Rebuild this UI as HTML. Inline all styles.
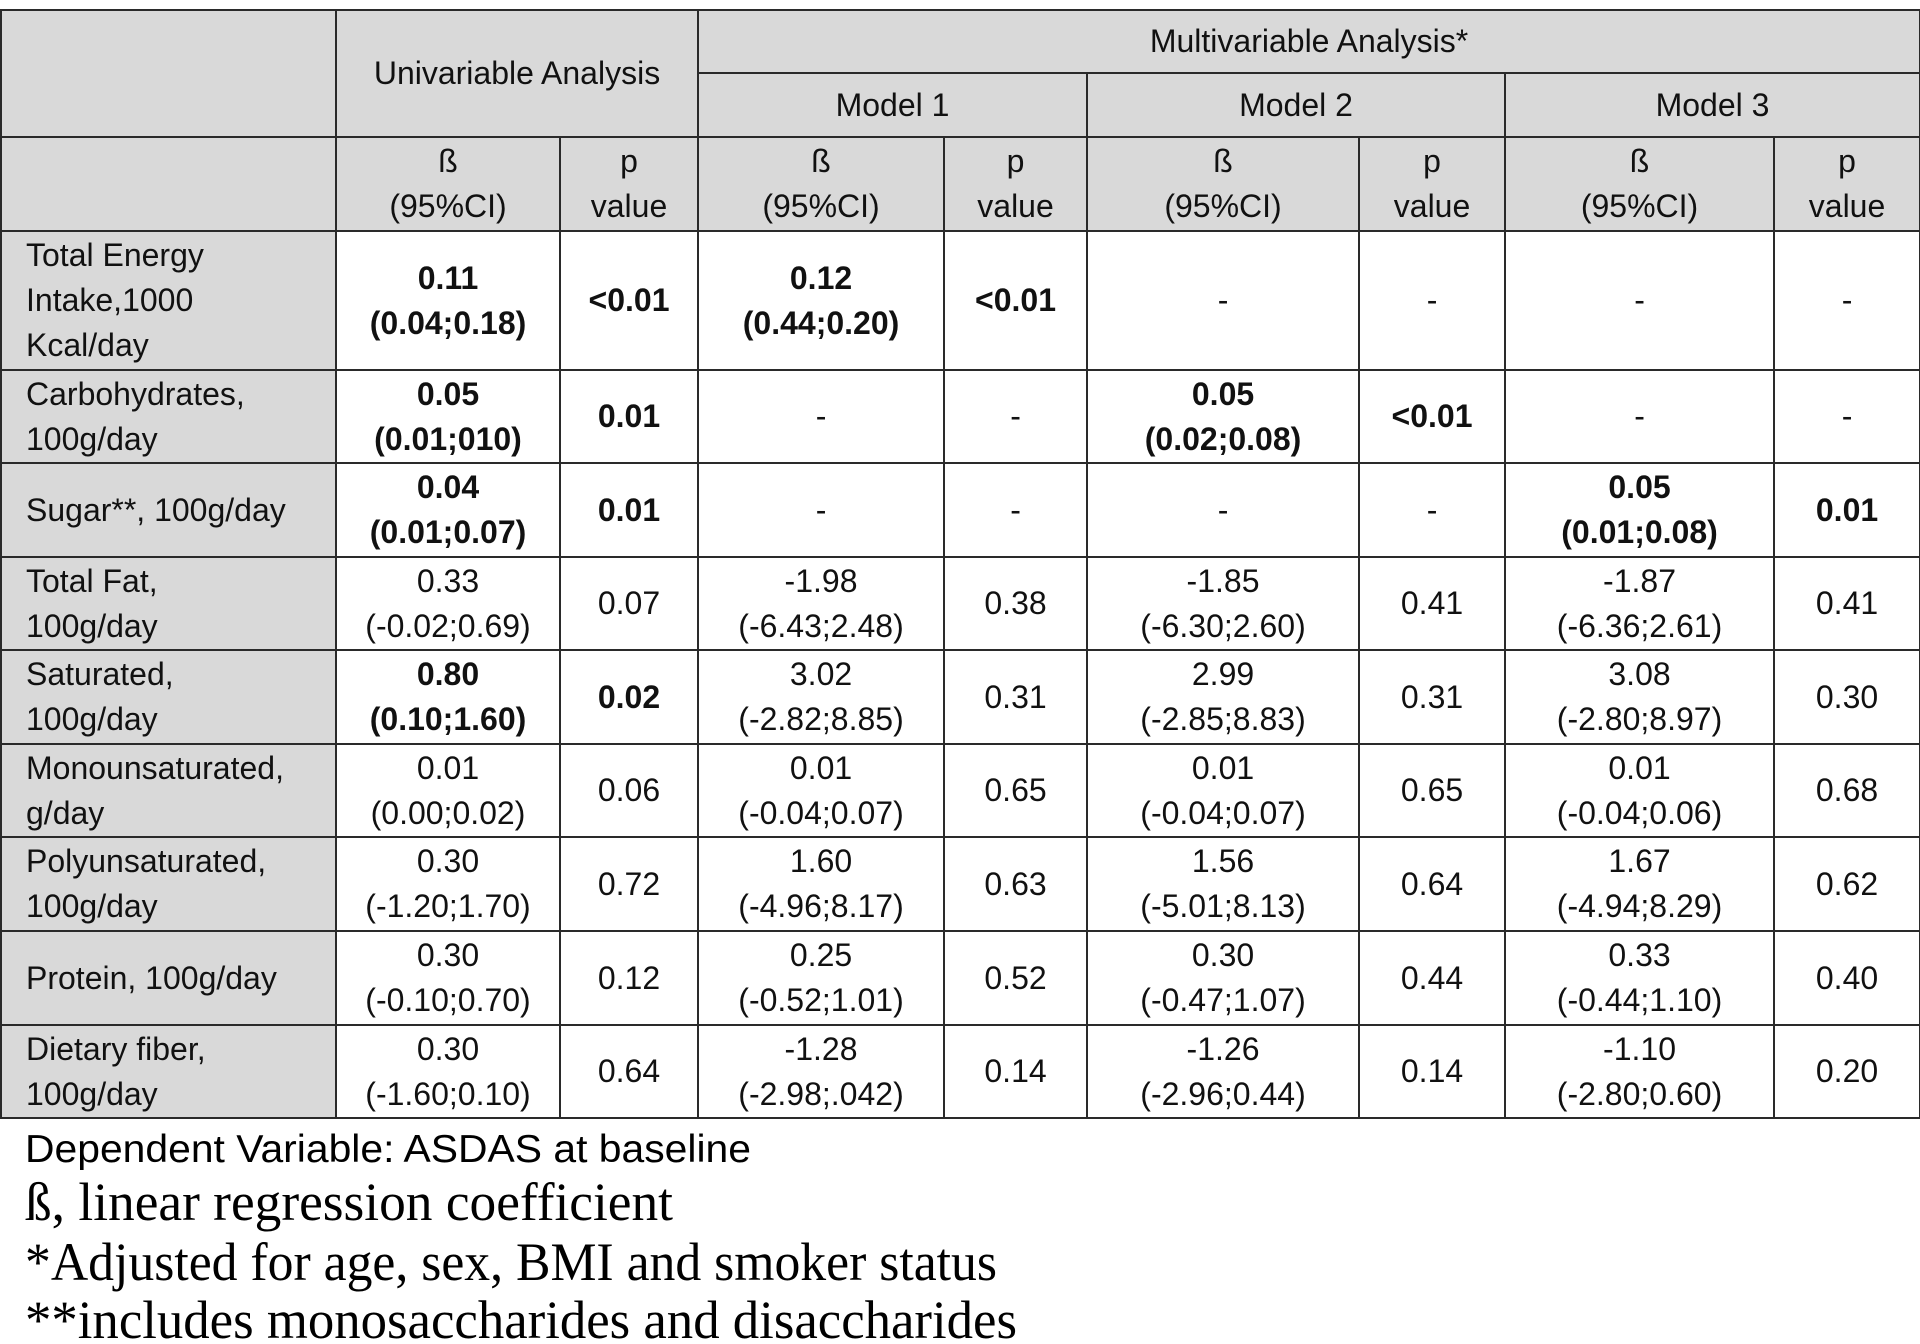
<!DOCTYPE html>
<html><head><meta charset="utf-8"><style>
body{margin:0;width:1920px;height:1344px;background:#fff;overflow:hidden;font-family:"Liberation Sans",sans-serif;color:#111}
table{position:absolute;left:0;top:9px;border-collapse:collapse;table-layout:fixed;width:1919px;font-size:32px;line-height:45px}
td{border:2px solid #2a2a2a;text-align:center;vertical-align:middle;padding:0;white-space:nowrap}
.g{background:#d9d9d9}
.l{text-align:left;padding-left:24px}
b{font-weight:bold}
#notes{position:absolute;left:0;top:1120px}
</style></head><body>
<table>
<colgroup><col style="width:335px"><col style="width:224px"><col style="width:138px"><col style="width:246px"><col style="width:143px"><col style="width:272px"><col style="width:146px"><col style="width:269px"><col style="width:146px"></colgroup>
<tr style="height:63px"><td class="g" rowspan="2"></td><td class="g" rowspan="2" colspan="2">Univariable Analysis</td><td class="g" colspan="6">Multivariable Analysis*</td></tr>
<tr style="height:64px"><td class="g" colspan="2">Model 1</td><td class="g" colspan="2">Model 2</td><td class="g" colspan="2">Model 3</td></tr>
<tr style="height:94px"><td class="g"></td><td class="g">ß<br>(95%CI)</td><td class="g">p<br>value</td><td class="g">ß<br>(95%CI)</td><td class="g">p<br>value</td><td class="g">ß<br>(95%CI)</td><td class="g">p<br>value</td><td class="g">ß<br>(95%CI)</td><td class="g">p<br>value</td></tr>
<tr style="height:139px"><td class="g l">Total Energy<br>Intake,1000<br>Kcal/day</td><td><b>0.11<br>(0.04;0.18)</b></td><td><b>&lt;0.01</b></td><td><b>0.12<br>(0.44;0.20)</b></td><td><b>&lt;0.01</b></td><td>-</td><td>-</td><td>-</td><td>-</td></tr>
<tr style="height:93px"><td class="g l">Carbohydrates,<br>100g/day</td><td><b>0.05<br>(0.01;010)</b></td><td><b>0.01</b></td><td>-</td><td>-</td><td><b>0.05<br>(0.02;0.08)</b></td><td><b>&lt;0.01</b></td><td>-</td><td>-</td></tr>
<tr style="height:94px"><td class="g l">Sugar**, 100g/day</td><td><b>0.04<br>(0.01;0.07)</b></td><td><b>0.01</b></td><td>-</td><td>-</td><td>-</td><td>-</td><td><b>0.05<br>(0.01;0.08)</b></td><td><b>0.01</b></td></tr>
<tr style="height:93px"><td class="g l">Total Fat,<br>100g/day</td><td>0.33<br>(-0.02;0.69)</td><td>0.07</td><td>-1.98<br>(-6.43;2.48)</td><td>0.38</td><td>-1.85<br>(-6.30;2.60)</td><td>0.41</td><td>-1.87<br>(-6.36;2.61)</td><td>0.41</td></tr>
<tr style="height:94px"><td class="g l">Saturated,<br>100g/day</td><td><b>0.80<br>(0.10;1.60)</b></td><td><b>0.02</b></td><td>3.02<br>(-2.82;8.85)</td><td>0.31</td><td>2.99<br>(-2.85;8.83)</td><td>0.31</td><td>3.08<br>(-2.80;8.97)</td><td>0.30</td></tr>
<tr style="height:93px"><td class="g l">Monounsaturated,<br>g/day</td><td>0.01<br>(0.00;0.02)</td><td>0.06</td><td>0.01<br>(-0.04;0.07)</td><td>0.65</td><td>0.01<br>(-0.04;0.07)</td><td>0.65</td><td>0.01<br>(-0.04;0.06)</td><td>0.68</td></tr>
<tr style="height:94px"><td class="g l">Polyunsaturated,<br>100g/day</td><td>0.30<br>(-1.20;1.70)</td><td>0.72</td><td>1.60<br>(-4.96;8.17)</td><td>0.63</td><td>1.56<br>(-5.01;8.13)</td><td>0.64</td><td>1.67<br>(-4.94;8.29)</td><td>0.62</td></tr>
<tr style="height:94px"><td class="g l">Protein, 100g/day</td><td>0.30<br>(-0.10;0.70)</td><td>0.12</td><td>0.25<br>(-0.52;1.01)</td><td>0.52</td><td>0.30<br>(-0.47;1.07)</td><td>0.44</td><td>0.33<br>(-0.44;1.10)</td><td>0.40</td></tr>
<tr style="height:93px"><td class="g l">Dietary fiber,<br>100g/day</td><td>0.30<br>(-1.60;0.10)</td><td>0.64</td><td>-1.28<br>(-2.98;.042)</td><td>0.14</td><td>-1.26<br>(-2.96;0.44)</td><td>0.14</td><td>-1.10<br>(-2.80;0.60)</td><td>0.20</td></tr>
</table>
<svg id="notes" width="1100" height="224">
<text x="25" y="42" font-family="Liberation Sans, sans-serif" font-size="39" textLength="726" lengthAdjust="spacingAndGlyphs">Dependent Variable: ASDAS at baseline</text>
<text x="25" y="100" font-family="Liberation Serif, serif" font-size="54" textLength="648" lengthAdjust="spacingAndGlyphs">ß, linear regression coefficient</text>
<text x="25" y="160" font-family="Liberation Serif, serif" font-size="54" textLength="972" lengthAdjust="spacingAndGlyphs">*Adjusted for age, sex, BMI and smoker status</text>
<text x="25" y="218" font-family="Liberation Serif, serif" font-size="54" textLength="992" lengthAdjust="spacingAndGlyphs">**includes monosaccharides and disaccharides</text>
</svg>
</body></html>
